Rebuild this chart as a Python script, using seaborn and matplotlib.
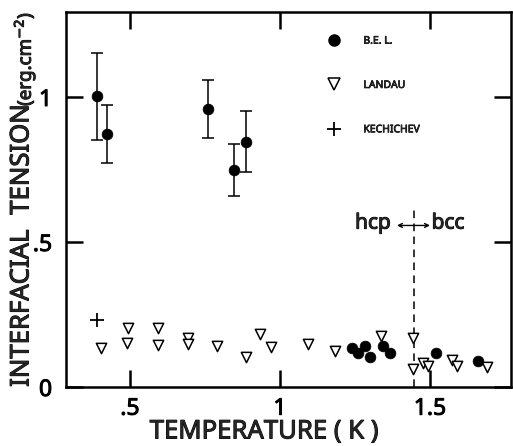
import matplotlib
matplotlib.use("Agg")
import matplotlib.pyplot as plt
from matplotlib.lines import Line2D
import matplotlib.patheffects as pe
import seaborn as sns
import pandas as pd

# ---- data ----
bel_T = [0.39, 0.423, 0.76, 0.847, 0.887, 1.239, 1.259, 1.283, 1.30, 1.342, 1.367, 1.519, 1.661]
bel_sigma = [1.003, 0.872, 0.957, 0.748, 0.845, 0.133, 0.116, 0.142, 0.102, 0.142, 0.116, 0.118, 0.091]
bel_err = [0.15, 0.10, 0.10, 0.09, 0.105, 0, 0, 0, 0, 0, 0, 0, 0]

landau_T = [0.403, 0.492, 0.489, 0.594, 0.594, 0.692, 0.692, 0.791, 0.887, 0.933, 0.969,
            1.094, 1.183, 1.337, 1.444, 1.444, 1.476, 1.492, 1.574, 1.591, 1.689]
landau_sigma = [0.133, 0.202, 0.151, 0.202, 0.145, 0.168, 0.148, 0.141, 0.102, 0.182, 0.139,
                0.148, 0.125, 0.177, 0.168, 0.061, 0.084, 0.073, 0.093, 0.073, 0.070]

kech_T = [0.391]
kech_sigma = [0.231]

transition_T = 1.448
x_ticks = [0.5, 1.0, 1.5]
x_ticklabels = [".5", "1", "1.5"]
y_ticks = [0, 0.5, 1.0]
y_ticklabels = ["0", ".5", "1"]
series_labels = ["B.E. L.", "LANDAU", "KECHICHEV"]

sns.set_theme(style="ticks")
plt.rcParams["font.family"] = ["Noto Sans", "DejaVu Sans"]

HEAVY = [pe.withStroke(linewidth=0.7, foreground="black")]
HEAVY_SMALL = [pe.withStroke(linewidth=0.5, foreground="black")]

fig = plt.figure(figsize=(5.13, 4.46), dpi=100)
ax = fig.add_axes([66/513, 59/446, 445/513, 375/446])

bel = pd.DataFrame({"T": bel_T, "s": bel_sigma, "e": bel_err})
lan = pd.DataFrame({"T": landau_T, "s": landau_sigma})
kec = pd.DataFrame({"T": kech_T, "s": kech_sigma})

eb = bel[bel["e"] > 0]
ax.errorbar(eb["T"], eb["s"], yerr=eb["e"], fmt="none", ecolor="black",
            elinewidth=1.1, capsize=4, capthick=1.1, zorder=2)
sns.scatterplot(data=bel, x="T", y="s", ax=ax, marker="o", s=60, color="black",
                edgecolor="black", linewidth=0.5, zorder=3, legend=False)
sns.scatterplot(data=lan, x="T", y="s", ax=ax, marker="v", s=55, facecolor="white",
                edgecolor="black", linewidth=1.1, zorder=3, legend=False)
sns.scatterplot(data=kec, x="T", y="s", ax=ax, marker="+", s=90, color="black",
                linewidth=1.3, zorder=3, legend=False)

ax.vlines(transition_T, 0, 0.62, colors="black", linestyles=(0, (5, 3.5)), linewidth=1.1)
ax.annotate("", xy=(1.39, 0.557), xytext=(1.50, 0.557),
            arrowprops=dict(arrowstyle="<->", color="black", lw=1.0,
                            shrinkA=0, shrinkB=0, mutation_scale=7))
ax.text(1.31, 0.565, "hcp", ha="center", va="center", fontsize=15, path_effects=HEAVY)
ax.text(1.56, 0.565, "bcc", ha="center", va="center", fontsize=15, path_effects=HEAVY)

ax.set_xlim(0.287, 1.77)
ax.set_ylim(0, 1.293)
ax.set_xticks(x_ticks)
ax.set_xticklabels(x_ticklabels)
ax.set_yticks(y_ticks)
ax.set_yticklabels(y_ticklabels)
ax.tick_params(direction="in", length=12, width=1.8, labelsize=16.5, top=True, right=True,
               colors="black")
ax.tick_params(axis="x", pad=7)
ax.tick_params(axis="y", pad=10)
for lab in ax.get_xticklabels() + ax.get_yticklabels():
    lab.set_path_effects(HEAVY)
for sp in ax.spines.values():
    sp.set_linewidth(1.8)
    sp.set_color("black")
ax.set_xlabel("")
ax.set_ylabel("")

ax.text(0.445, -0.12, "TEMPERATURE ( K )", transform=ax.transAxes, ha="center",
        va="center", fontsize=18.5, path_effects=HEAVY)
ax.text(-0.099, 0.21, "INTERFACIAL", transform=ax.transAxes, rotation=90,
        ha="center", va="center", fontsize=18.5, path_effects=HEAVY)
ax.text(-0.099, 0.607, "TENSION", transform=ax.transAxes, rotation=90,
        ha="center", va="center", fontsize=18.5, path_effects=HEAVY)
ax.text(-0.094, 0.875, "(erg.cm$^{-2}$)", transform=ax.transAxes, rotation=90,
        ha="center", va="center", fontsize=13.5, path_effects=HEAVY)

handles = [
    Line2D([], [], marker="o", linestyle="none", color="black", markersize=8),
    Line2D([], [], marker="v", linestyle="none", markerfacecolor="white",
           markeredgecolor="black", markersize=8, markeredgewidth=1.1),
    Line2D([], [], marker="+", linestyle="none", color="black", markersize=10,
           markeredgewidth=1.3),
]
leg = ax.legend(handles, series_labels, loc="upper left", bbox_to_anchor=(0.591, 0.937),
                frameon=False, prop={"size": 7.5},
                labelspacing=3.2, handlelength=1.0, handletextpad=2.3, borderpad=0,
                borderaxespad=0)
for t in leg.get_texts():
    t.set_path_effects(HEAVY_SMALL)

fig.savefig("out.png", dpi=100)
